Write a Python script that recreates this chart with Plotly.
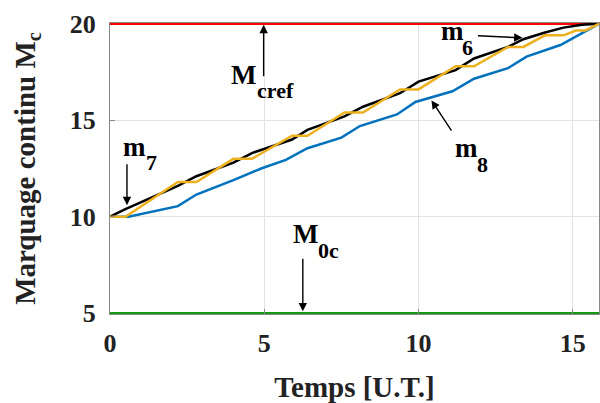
import plotly.graph_objects as go

# ---- data ----
t_ref = [0, 16]
m_cref = [20, 20]
m_0c = [5, 5]

t_m6 = [0, 0.5, 2.2, 2.8, 4.0, 4.6, 5.9, 6.4, 7.6, 8.2, 9.4, 10.0, 11.2, 11.8, 12.9, 13.4, 14.1, 14.7, 15.3, 15.85]
m6 = [10, 10.4, 11.6, 12.1, 12.8, 13.3, 14.0, 14.5, 15.2, 15.7, 16.4, 17.0, 17.6, 18.2, 18.8, 19.2, 19.55, 19.8, 19.95, 20]

t_m7 = [0, 0.5, 2.2, 2.8, 4.0, 4.6, 5.9, 6.4, 7.6, 8.2, 9.4, 10.0, 11.2, 11.8, 12.9, 13.4, 14.1, 14.7, 15.1, 15.4, 15.85]
m7 = [10, 10, 11.8, 11.8, 13.0, 13.0, 14.2, 14.2, 15.4, 15.4, 16.6, 16.6, 17.8, 17.8, 18.8, 18.8, 19.4, 19.4, 19.65, 19.65, 20]

t_m8 = [0, 0.6, 2.2, 2.8, 4.0, 4.9, 5.7, 6.4, 7.5, 8.1, 9.3, 9.9, 11.1, 11.8, 12.9, 13.5, 14.6, 15.85]
m8 = [10, 10, 10.55, 11.15, 11.9, 12.5, 12.95, 13.55, 14.1, 14.7, 15.3, 15.95, 16.5, 17.15, 17.7, 18.3, 18.9, 20]

x_ticks = [0, 5, 10, 15]
y_ticks = [5, 10, 15, 20]

FONT = "'Liberation Serif', 'Times New Roman', Times, serif"

fig = go.Figure()
fig.add_trace(go.Scatter(x=t_ref, y=m_cref, mode="lines", line=dict(color="#FF0000", width=2.5)))
fig.add_trace(go.Scatter(x=t_ref, y=m_0c, mode="lines", line=dict(color="#159A15", width=2.5)))
fig.add_trace(go.Scatter(x=t_m8, y=m8, mode="lines", line=dict(color="#0072BD", width=2.5)))
fig.add_trace(go.Scatter(x=t_m6, y=m6, mode="lines", line=dict(color="#000000", width=2.5)))
fig.add_trace(go.Scatter(x=t_m7, y=m7, mode="lines", line=dict(color="#EDB120", width=2.5)))

annots = []
def txt(x, y, s, size):
    annots.append(dict(x=x, y=y, xref="x", yref="y", text="<b>%s</b>" % s, showarrow=False,
                       font=dict(family=FONT, size=size, color="black"),
                       xanchor="center", yanchor="middle"))

def arrow(x0, y0, x1, y1):
    annots.append(dict(x=x1, y=y1, ax=x0, ay=y0, xref="x", yref="y", axref="x", ayref="y",
                       text="", showarrow=True, arrowhead=2, arrowsize=1.2, arrowwidth=1.4,
                       arrowcolor="black"))

# M_cref
txt(4.33, 17.35, "M", 27); txt(5.35, 16.55, "cref", 22)
arrow(4.98, 17.2, 4.98, 19.95)
# m_7
txt(0.79, 13.6, "m", 27); txt(1.33, 12.8, "7", 22)
arrow(0.55, 12.8, 0.55, 10.6)
# m_6
txt(11.09, 19.63, "m", 27); txt(11.6, 18.76, "6", 22)
arrow(11.88, 19.38, 13.37, 19.27)
# m_8
txt(11.54, 13.55, "m", 27); txt(12.06, 12.7, "8", 22)
arrow(11.1, 14.38, 10.42, 16.03)
# M_0c
txt(6.34, 9.1, "M", 27); txt(7.07, 8.25, "0c", 22)
arrow(6.25, 7.9, 6.25, 5.1)

fig.update_layout(
    width=600, height=403,
    margin=dict(l=110, r=1, t=23, b=89),
    paper_bgcolor="white", plot_bgcolor="white",
    showlegend=False,
    font=dict(family=FONT, color="#222222"),
    annotations=annots,
)
fig.update_xaxes(
    range=[0, 15.85], tickvals=x_ticks, ticktext=["<b>%d</b>" % v for v in x_ticks],
    tickfont=dict(family=FONT, size=26, color="#222222"),
    showgrid=True, gridcolor="#e3e3e3", gridwidth=1, zeroline=False,
    showline=True, linecolor="#888888", linewidth=1, mirror=True,
    ticks="inside", ticklen=5, tickcolor="#888888", ticklabelstandoff=6,
    title=dict(text="<b>Temps [U.T.]</b>", font=dict(family=FONT, size=29, color="#222222"), standoff=22),
)
fig.update_yaxes(
    range=[4.96, 20.04], tickvals=y_ticks, ticktext=["<b>%d</b>" % v for v in y_ticks],
    tickfont=dict(family=FONT, size=26, color="#222222"),
    showgrid=True, gridcolor="#e3e3e3", gridwidth=1, zeroline=False,
    showline=True, linecolor="#888888", linewidth=1, mirror=True,
    ticks="inside", ticklen=5, tickcolor="#888888", ticklabelstandoff=8,
    title=dict(text="<b>Marquage continu M<sub>c</sub></b>", font=dict(family=FONT, size=29, color="#222222"), standoff=25),
)

fig.write_html("out.html")
